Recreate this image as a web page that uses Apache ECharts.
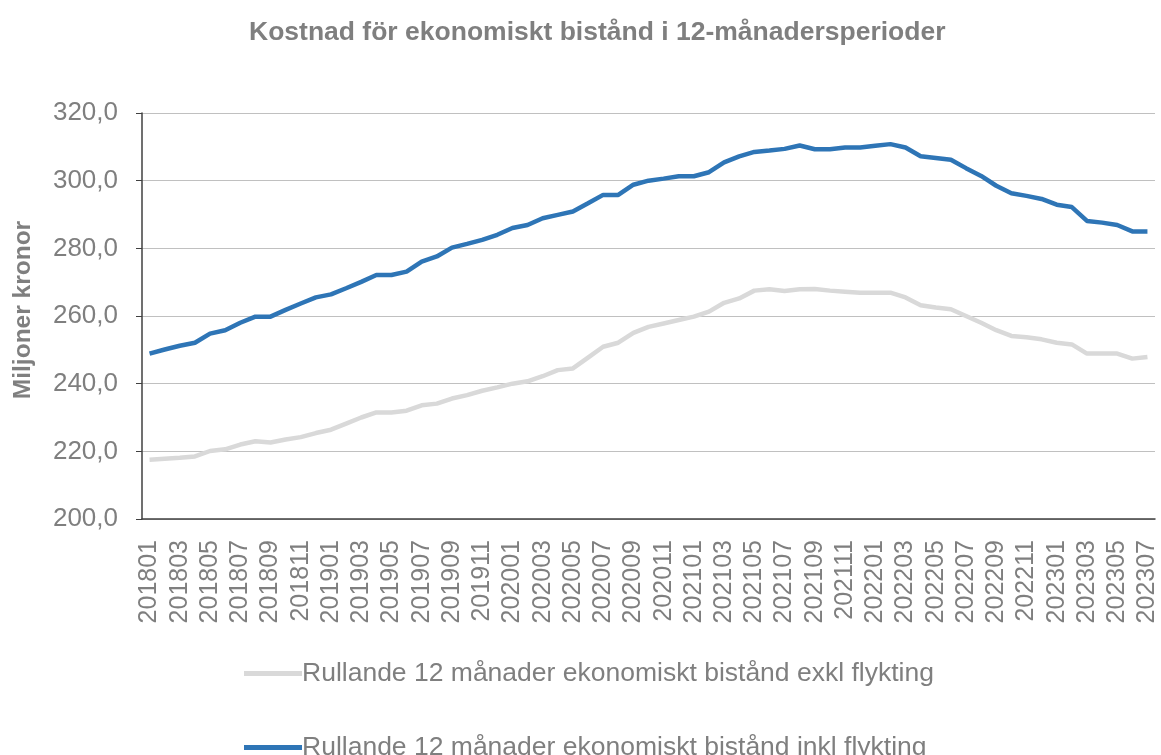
<!DOCTYPE html>
<html>
<head>
<meta charset="utf-8">
<script src="https://cdn.jsdelivr.net/npm/echarts@6/dist/echarts.min.js"></script>
<style>
html,body{margin:0;padding:0;background:#fff;}
#chart{width:1161px;height:755px;}
</style>
</head>
<body>
<div id="chart"></div>
<script>
const title = 'Kostnad för ekonomiskt bistånd i 12-månadersperioder';
const yAxisName = 'Miljoner kronor';
const seriesNames = ['Rullande 12 månader ekonomiskt bistånd exkl flykting', 'Rullande 12 månader ekonomiskt bistånd inkl flykting'];

const categories = [];
for (let y = 2018; y <= 2023; y++) {
  for (let m = 1; m <= 12; m++) {
    if (y === 2023 && m > 7) break;
    categories.push(String(y) + String(m).padStart(2, '0'));
  }
}

const exklFlykting = [
  217.5, 217.8, 218.1, 218.5, 220.1, 220.6, 222.0, 223.0, 222.6, 223.5,
  224.2, 225.4, 226.4, 228.2, 230.0, 231.5, 231.5, 232.0, 233.6, 234.1,
  235.6, 236.6, 237.9, 238.9, 240.0, 240.7, 242.2, 244.0, 244.5, 247.7,
  250.9, 252.1, 255.0, 256.8, 257.8, 258.8, 259.8, 261.3, 263.9, 265.2,
  267.5, 267.9, 267.4, 267.9, 268.0, 267.5, 267.2, 266.9, 266.9, 266.9,
  265.5, 263.2, 262.5, 262.0, 260.0, 258.0, 255.8, 254.1, 253.7, 253.1,
  252.1, 251.6, 248.9, 248.9, 248.9, 247.4, 247.9
];
const inklFlykting = [
  248.9, 250.1, 251.2, 252.1, 254.8, 255.8, 258.0, 259.8, 259.8, 261.8,
  263.7, 265.5, 266.4, 268.2, 270.1, 272.1, 272.1, 273.1, 276.1, 277.6,
  280.2, 281.3, 282.5, 284.0, 286.0, 286.9, 288.9, 289.9, 290.9, 293.3,
  295.8, 295.8, 298.8, 300.0, 300.6, 301.3, 301.3, 302.5, 305.4, 307.2,
  308.5, 308.9, 309.4, 310.4, 309.3, 309.3, 309.8, 309.8, 310.3, 310.8,
  309.8, 307.2, 306.7, 306.2, 303.7, 301.4, 298.5, 296.3, 295.5, 294.6,
  292.9, 292.2, 288.1, 287.6, 286.9, 285.0, 285.0
];

const FONT = '"Liberation Sans", Arial, sans-serif';
const TXT = '#7f7f7f';
const legendBase = {
  orient: 'horizontal',
  left: 239,
  itemWidth: 58, itemHeight: 5,
  icon: 'rect',
  textStyle: {fontFamily: FONT, fontSize: 26.5, color: TXT, padding: [0, 0, 0, -5]}
};
const chart = echarts.init(document.getElementById('chart'), null, {renderer: 'canvas'});
chart.setOption({
  animation: false,
  backgroundColor: '#ffffff',
  title: {
    text: title,
    left: 244, top: 14,
    textStyle: {fontFamily: FONT, fontSize: 26.5, fontWeight: 'bold', color: TXT}
  },
  grid: {left: 142, right: 6, top: 113, bottom: 236, containLabel: false},
  legend: [
    Object.assign({}, legendBase, {top: 655, data: [seriesNames[0]]}),
    Object.assign({}, legendBase, {top: 729, data: [seriesNames[1]]})
  ],
  xAxis: {
    type: 'category',
    data: categories,
    boundaryGap: true,
    axisLine: {lineStyle: {color: '#404040', width: 1.5}},
    axisTick: {show: false},
    axisLabel: {interval: 1, rotate: 90, fontFamily: FONT, fontSize: 25, color: TXT, margin: 21}
  },
  yAxis: {
    type: 'value',
    min: 200, max: 320, interval: 20,
    name: yAxisName,
    nameLocation: 'middle',
    nameGap: 106,
    nameTextStyle: {fontFamily: FONT, fontSize: 24.5, fontWeight: 'bold', color: TXT, padding: [0, 0, 0, 12]},
    axisLine: {show: true, lineStyle: {color: '#404040', width: 1.5}},
    axisTick: {show: true, length: 6, lineStyle: {color: '#404040'}},
    axisLabel: {
      fontFamily: FONT, fontSize: 26, color: TXT, margin: 24,
      formatter: v => v.toFixed(1).replace('.', ',')
    },
    splitLine: {lineStyle: {color: '#c0c0c0', width: 1.2}}
  },
  series: [
    {
      name: seriesNames[0], type: 'line', data: exklFlykting,
      showSymbol: false, symbol: 'none',
      lineStyle: {color: '#d9d9d9', width: 4.5},
      itemStyle: {color: '#d9d9d9'}
    },
    {
      name: seriesNames[1], type: 'line', data: inklFlykting,
      showSymbol: false, symbol: 'none',
      lineStyle: {color: '#2e75b6', width: 4.5},
      itemStyle: {color: '#2e75b6'}
    }
  ]
});
</script>
</body>
</html>
